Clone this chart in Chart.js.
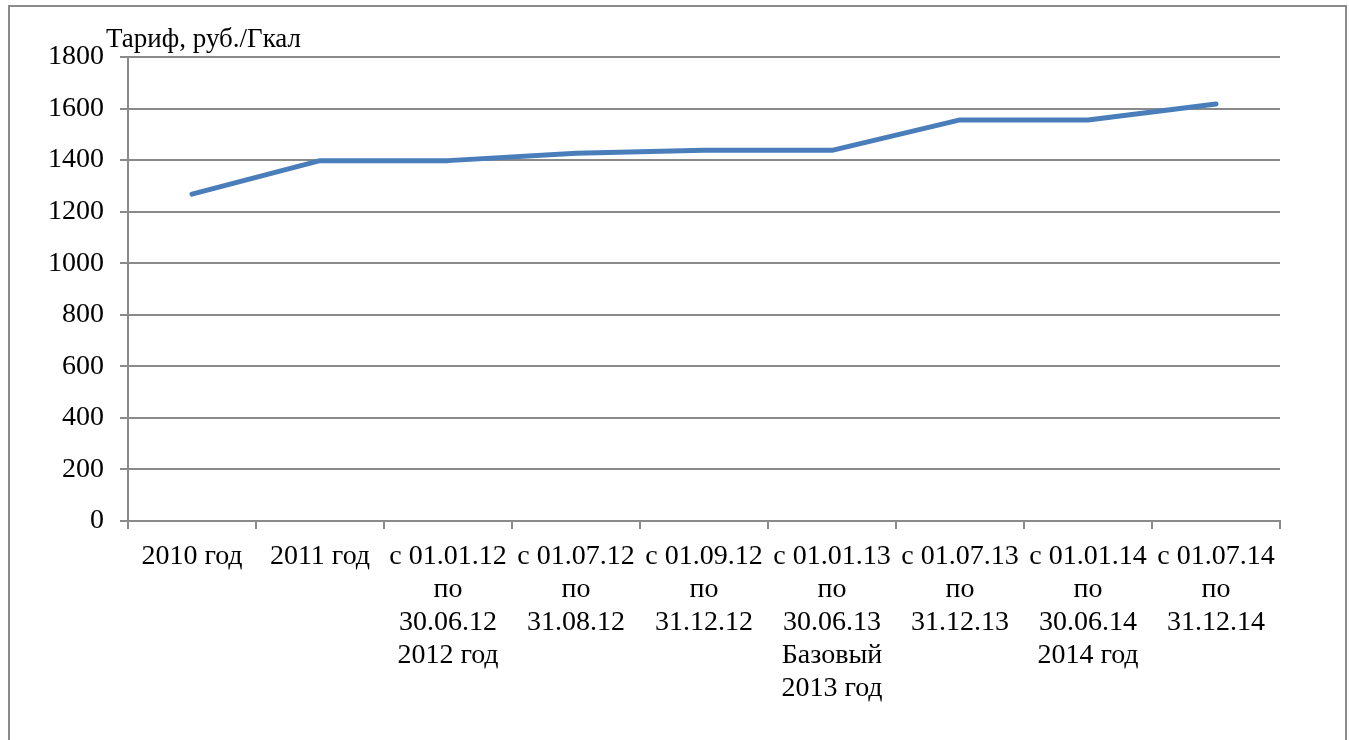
<!DOCTYPE html>
<html>
<head>
<meta charset="utf-8">
<script src="https://cdn.jsdelivr.net/npm/chart.js@4/dist/chart.umd.min.js"></script>
<style>
  html, body { margin: 0; padding: 0; background: #fff; }
  #wrap { position: relative; width: 1349px; height: 740px; overflow: hidden; }
  #frame { position: absolute; left: 8px; top: 5px; width: 1339px; height: 800px; border: 2px solid #8a8a8a; box-sizing: border-box; }
  canvas { position: absolute; left: 0; top: 0; }
</style>
</head>
<body>
<div id="wrap">
  <div id="frame"></div>
  <canvas id="c" width="1349" height="740"></canvas>
</div>
<script>
// Tariff periods (category labels, one array entry per line)
const categories = [
  ['2010 год'],
  ['2011 год'],
  ['с 01.01.12', 'по', '30.06.12', '2012 год'],
  ['с 01.07.12', 'по', '31.08.12'],
  ['с 01.09.12', 'по', '31.12.12'],
  ['с 01.01.13', 'по', '30.06.13', 'Базовый', '2013 год'],
  ['с 01.07.13', 'по', '31.12.13'],
  ['с 01.01.14', 'по', '30.06.14', '2014 год'],
  ['с 01.07.14', 'по', '31.12.14']
];

// Heat tariff, rub./Gcal
const tariff = [1268, 1398, 1398, 1427, 1438, 1438, 1556, 1556, 1618];

// Value axis
const yMin = 0;
const yMax = 1800;
const yStep = 200;

const axisTitle = 'Тариф, руб./Гкал';

const FONT = 'Liberation Serif, Times New Roman, serif';
const GRID = '#8a8a8a';

// Unit caption above the value axis
const captionPlugin = {
  id: 'caption',
  afterDraw(chart) {
    const { ctx, chartArea } = chart;
    ctx.save();
    ctx.font = '27px ' + FONT;
    ctx.fillStyle = '#000';
    ctx.textAlign = 'left';
    ctx.textBaseline = 'alphabetic';
    ctx.fillText(axisTitle, chartArea.left - 22, chartArea.top - 10);
    ctx.restore();
  }
};

new Chart(document.getElementById('c'), {
  type: 'line',
  data: {
    labels: categories,
    datasets: [{
      data: tariff,
      borderColor: '#4a7ebb',
      backgroundColor: '#4a7ebb',
      borderWidth: 5,
      pointRadius: 0,
      pointHoverRadius: 0,
      tension: 0,
      borderCapStyle: 'round',
      borderJoinStyle: 'round',
      fill: false
    }]
  },
  options: {
    responsive: false,
    animation: false,
    events: [],
    layout: { padding: { left: 0, right: 69, top: 57, bottom: 0 } },
    plugins: {
      legend: { display: false },
      title: { display: false },
      tooltip: { enabled: false }
    },
    scales: {
      x: {
        type: 'category',
        offset: true,
        grid: {
          offset: true,
          drawOnChartArea: false,
          drawTicks: true,
          tickLength: 8,
          color: GRID,
          lineWidth: 2
        },
        border: { display: true, color: GRID, width: 2 },
        ticks: {
          autoSkip: false,
          maxRotation: 0,
          minRotation: 0,
          padding: 11,
          color: '#000',
          font: { family: FONT, size: 28, lineHeight: 1.18 }
        },
        afterFit(scale) { scale.height = 219; }
      },
      y: {
        min: yMin,
        max: yMax,
        grid: {
          color: GRID,
          lineWidth: 2,
          tickLength: 8
        },
        border: { display: true, color: GRID, width: 2 },
        ticks: {
          stepSize: yStep,
          padding: 16,
          color: '#000',
          font: { family: FONT, size: 28 },
          callback: (v) => String(v)
        },
        afterFit(scale) { scale.width = 128; }
      }
    }
  },
  plugins: [captionPlugin]
});
</script>
</body>
</html>
